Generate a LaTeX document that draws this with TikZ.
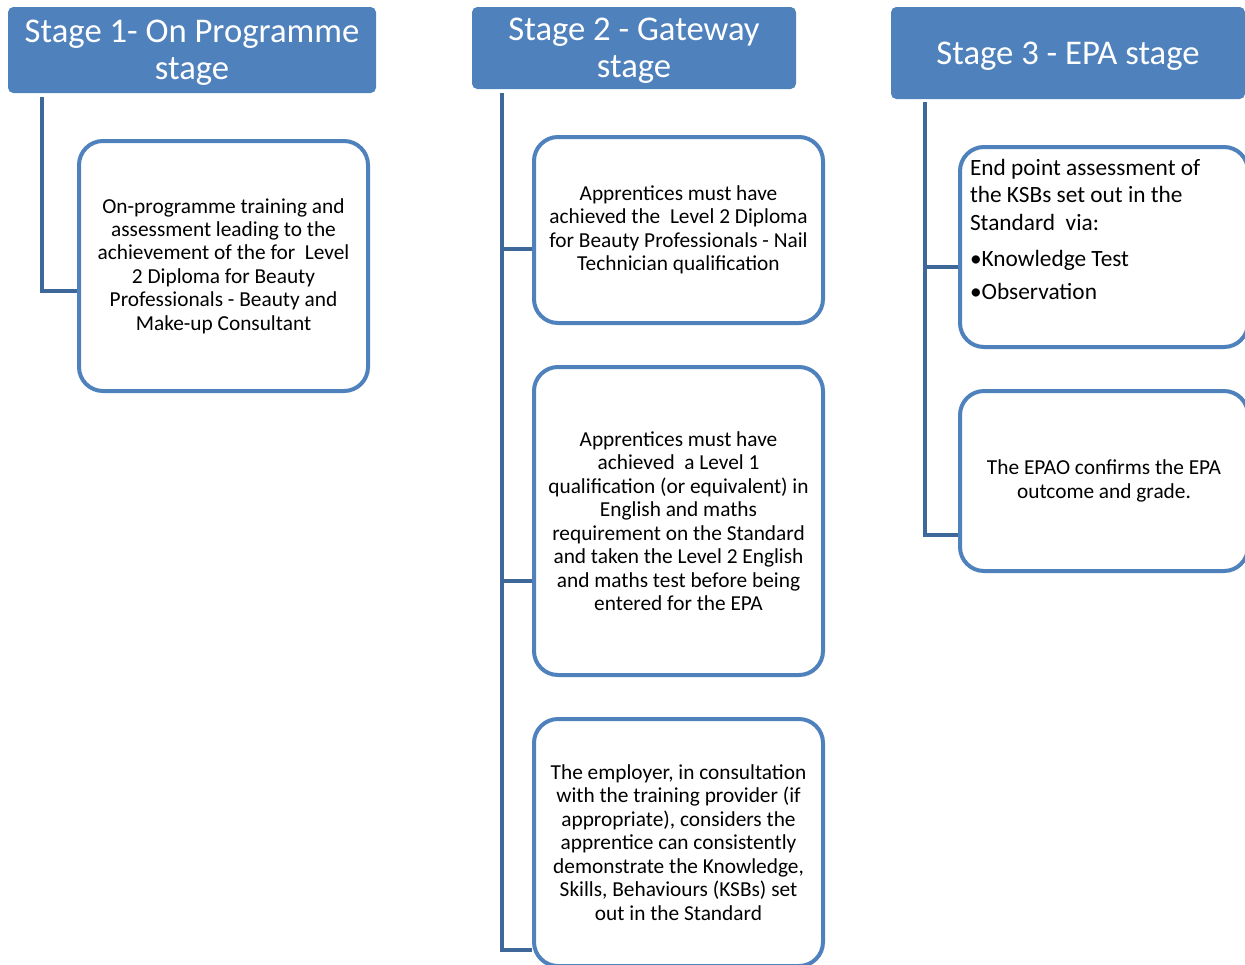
\documentclass[tikz,border=0pt]{standalone}
\usepackage{fontspec}
\setmainfont{Carlito}
\usetikzlibrary{calc, backgrounds}

\definecolor{hdrblue}{HTML}{4F81BD}
\definecolor{boxblue}{HTML}{4F81BD}
\definecolor{linkblue}{HTML}{3F689A}

\tikzset{
    stagehdr/.style={fill=hdrblue, rounded corners=4pt, text=white, align=center, inner sep=0pt,
        text depth=0pt, font=\fontsize{26}{27.7}\selectfont},
    infobox/.style={draw=boxblue, line width=3pt, rounded corners=18pt, fill=white, align=center,
        inner sep=0pt, font=\fontsize{16}{17.6}\selectfont},
    link/.style={draw=linkblue, line width=3pt},
}

\begin{document}
\begin{tikzpicture}[x=0.75pt, y=-0.75pt]
        \useasboundingbox (0,0) rectangle (1245,964);
        \clip (0,0) rectangle (1245,964);
        % stage headers
        \node [stagehdr, minimum width=276pt, minimum height=64.5pt] (hdrA) at (192,50)
            {Stage 1- On Programme\\stage};
        \node [stagehdr, minimum width=243pt, minimum height=61.5pt] (hdrB) at (634,48)
            {Stage 2 - Gateway\\stage};
        \node [stagehdr, minimum width=265.5pt, minimum height=69pt] (hdrC) at (1068,53)
            {Stage 3 - EPA stage};
        % stage 1
        \node [infobox, minimum width=216.75pt, minimum height=187.5pt] (progBox) at (223.5,266)
            {On-programme training and\\assessment leading to the\\achievement of the for~ Level\\2 Diploma for Beauty\\Professionals - Beauty and\\Make-up Consultant};
        % stage 2
        \node [infobox, minimum width=216.75pt, minimum height=139.5pt] (diplomaBox) at (678.5,230)
            {Apprentices must have\\achieved the~ Level 2 Diploma\\for Beauty Professionals - Nail\\Technician qualification};
        \node [infobox, minimum width=216.75pt, minimum height=231pt] (mathsBox) at (678.5,521)
            {Apprentices must have\\achieved~ a Level 1\\qualification (or equivalent) in\\English and maths\\requirement on the Standard\\and taken the Level 2 English\\and maths test before being\\entered for the EPA};
        \node [infobox, minimum width=216.75pt, minimum height=185.25pt] (employerBox) at (678.5,842.5)
            {The employer, in consultation\\with the training provider (if\\appropriate), considers the\\apprentice can consistently\\demonstrate the Knowledge,\\Skills, Behaviours (KSBs) set\\out in the Standard};
        % stage 3
        \node [infobox, minimum width=216pt, minimum height=150pt, align=flush left, text width=201pt,
            font=\fontsize{17.5}{20.4}\selectfont] (epaBox) at (1104,247)
            {End point assessment of\\the KSBs set out in the\\Standard~ via:\\[7pt]\textbullet Knowledge Test\\[4.5pt]\textbullet Observation\par\vspace{5.5pt}\mbox{}};
        \node [infobox, minimum width=216pt, minimum height=135pt] (gradeBox) at (1104,481)
            {The EPAO confirms the EPA\\outcome and grade.};
        % connectors
        \coordinate (trunkA) at ($(hdrA.south west)+(34,4)$);
        \coordinate (trunkB) at ($(hdrB.south west)+(30,4)$);
        \coordinate (trunkC) at ($(hdrC.south west)+(34,3)$);
        \coordinate (jProg) at ($(progBox.west)+(0,25)$);
        \coordinate (jDiploma) at ($(diplomaBox.west)+(0,19)$);
        \coordinate (jMaths) at ($(mathsBox.west)+(0,60)$);
        \coordinate (jEmployer) at ($(employerBox.west)+(0,107.5)$);
        \coordinate (jEpa) at ($(epaBox.west)+(0,20)$);
        \coordinate (jGrade) at ($(gradeBox.west)+(0,54)$);
        \begin{scope}[on background layer]
            \draw [link] (trunkA) |- (jProg);
            \draw [link] (trunkB) |- (jEmployer);
            \draw [link] (trunkB |- jDiploma) -- (jDiploma);
            \draw [link] (trunkB |- jMaths) -- (jMaths);
            \draw [link] (trunkC) |- (jGrade);
            \draw [link] (trunkC |- jEpa) -- (jEpa);
        \end{scope}
    \end{tikzpicture}
\end{document}
